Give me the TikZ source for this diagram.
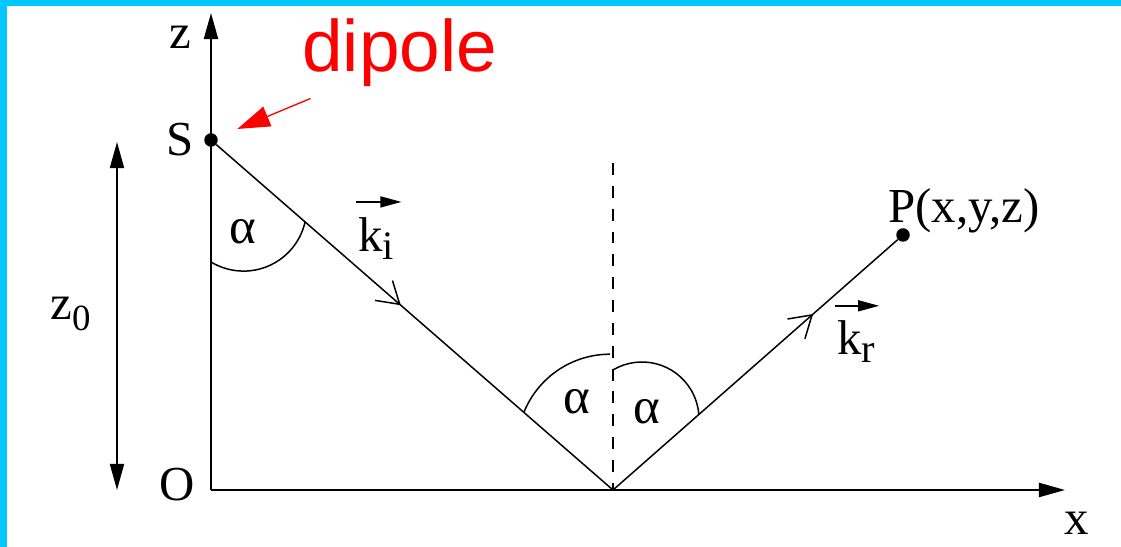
\documentclass[tikz,border=0pt]{standalone}
\usepackage{fontspec}
\setmainfont{Liberation Serif}
\newfontfamily\dipolefont{Liberation Sans}
\usepackage{tikz}
\usetikzlibrary{arrows.meta, positioning, calc, decorations.markings}
\definecolor{Borde}{RGB}{0,200,255}
\definecolor{Rojo} {RGB}{255,0,0}
\newcommand{\lowsub}[3]{\raisebox{-#2}{\fontsize{#1}{#1}\selectfont #3}}

\begin{document}
\begin{tikzpicture}[
    eje/.style={line width=1.1pt,-{Triangle[length=14.8pt,width=8pt]}},
    rayo/.style={line width=0.85pt},
    punto/.style={circle,fill,inner sep=0pt,minimum size=0.27cm},
    etiq/.style={inner sep=0pt,font=\fontsize{27.8}{30}\selectfont},
    alfa/.style={inner sep=0pt,font=\fontsize{29}{32}\selectfont},
    vec/.style={line width=0.85pt,-{Triangle[length=12pt,width=6.3pt]}},
    flecha/.style={postaction={decorate},decoration={markings,mark=at position #1 with {\arrow{Straight Barb[length=12pt,width=15pt]}}}}]
  \useasboundingbox (-4.22,-1.14) rectangle (18.2,9.8);
  \fill[Borde] (-4.22,-1.14) rectangle (-4.08,9.8);
  \fill[Borde] (-4.22,9.68) rectangle (18.2,9.8);
  \coordinate (O) at (0,0);
  \coordinate (R) at (8.04,0);
  \coordinate (ztop) at (0,9.54);
  \coordinate (xend) at (17.08,0);
  \coordinate (dtop) at (8.04,6.54);
  \coordinate (zA) at (-1.88,0);
  \coordinate (zB) at (-1.88,6.96);
  \node[punto] (S) at (0,7) {};
  \node[punto] (P) at (13.84,5.10) {};
  \draw[eje] (O) -- (ztop);
  \draw[eje] (O) -- (xend);
  \draw[line width=0.9pt,{Triangle[length=14.8pt,width=8pt]}-{Triangle[length=14.8pt,width=8pt]}] (zA) -- (zB);
  \draw[rayo,flecha=0.465] (S) -- (R);
  \draw[rayo,flecha=0.703] (R) -- (P);
  \draw[line width=0.8pt,dash pattern=on 6.8pt off 6.2pt] (dtop) -- (R);
  \coordinate (cS) at (0.652,5.638);
  \coordinate (cL) at (7.98,0.86);
  \coordinate (cR) at (8.62,1.42);
  \draw[rayo] ([shift={(-121:1.26)}]cS) arc[start angle=-121,end angle=-13,radius=1.26];
  \draw[rayo] ([shift={(158:1.856)}]cL) arc[start angle=158,end angle=90,radius=1.856];
  \draw[rayo] ([shift={(120.6:1.14)}]cR) arc[start angle=120.6,end angle=4.5,radius=1.14];
  \node[etiq] (zlab) at (-0.62,9.06) {z};
  \node[etiq,left=0.19cm of S] (Slab) {S};
  \node[etiq] (Olab) at (-0.68,0.10) {O};
  \node[etiq] (xlab) at (17.32,-0.66) {x};
  \node[etiq,anchor=base west] (z0lab) at (-3.22,3.40) {z\lowsub{21}{6pt}{0}};
  \node[alfa] (aS) at (0.64,5.16) {α};
  \node[alfa] (aL) at (7.32,1.76) {α};
  \node[alfa] (aR) at (8.72,1.56) {α};
  \node[etiq,anchor=base west] (ki) at (2.94,4.76) {k\lowsub{23}{4.5pt}{i}};
  \node[etiq,anchor=base west] (kr) at (12.52,2.70) {k\lowsub{23}{4pt}{r}};
  \draw[vec] ([yshift=9pt,xshift=-1pt]ki.north west) -- ([yshift=9pt,xshift=4pt]ki.north east);
  \draw[vec] ([yshift=8.5pt,xshift=-1pt]kr.north west) -- ([yshift=8.5pt,xshift=2pt]kr.north east);
  \node[etiq,anchor=base west] (Plab) at (13.54,5.34) {P(x,y,z)};
  \node[inner sep=0pt,anchor=base west,text=Rojo,font=\dipolefont\fontsize{41.5}{45}\selectfont] (dip) at (1.82,8.36) {dipole};
  \coordinate (dcola) at (1.99,7.83);
  \draw[Rojo,line width=0.75pt,-{Triangle[length=18.5pt,width=12pt]},shorten >=0.43cm] (dcola) -- (S);
\end{tikzpicture}
\end{document}
